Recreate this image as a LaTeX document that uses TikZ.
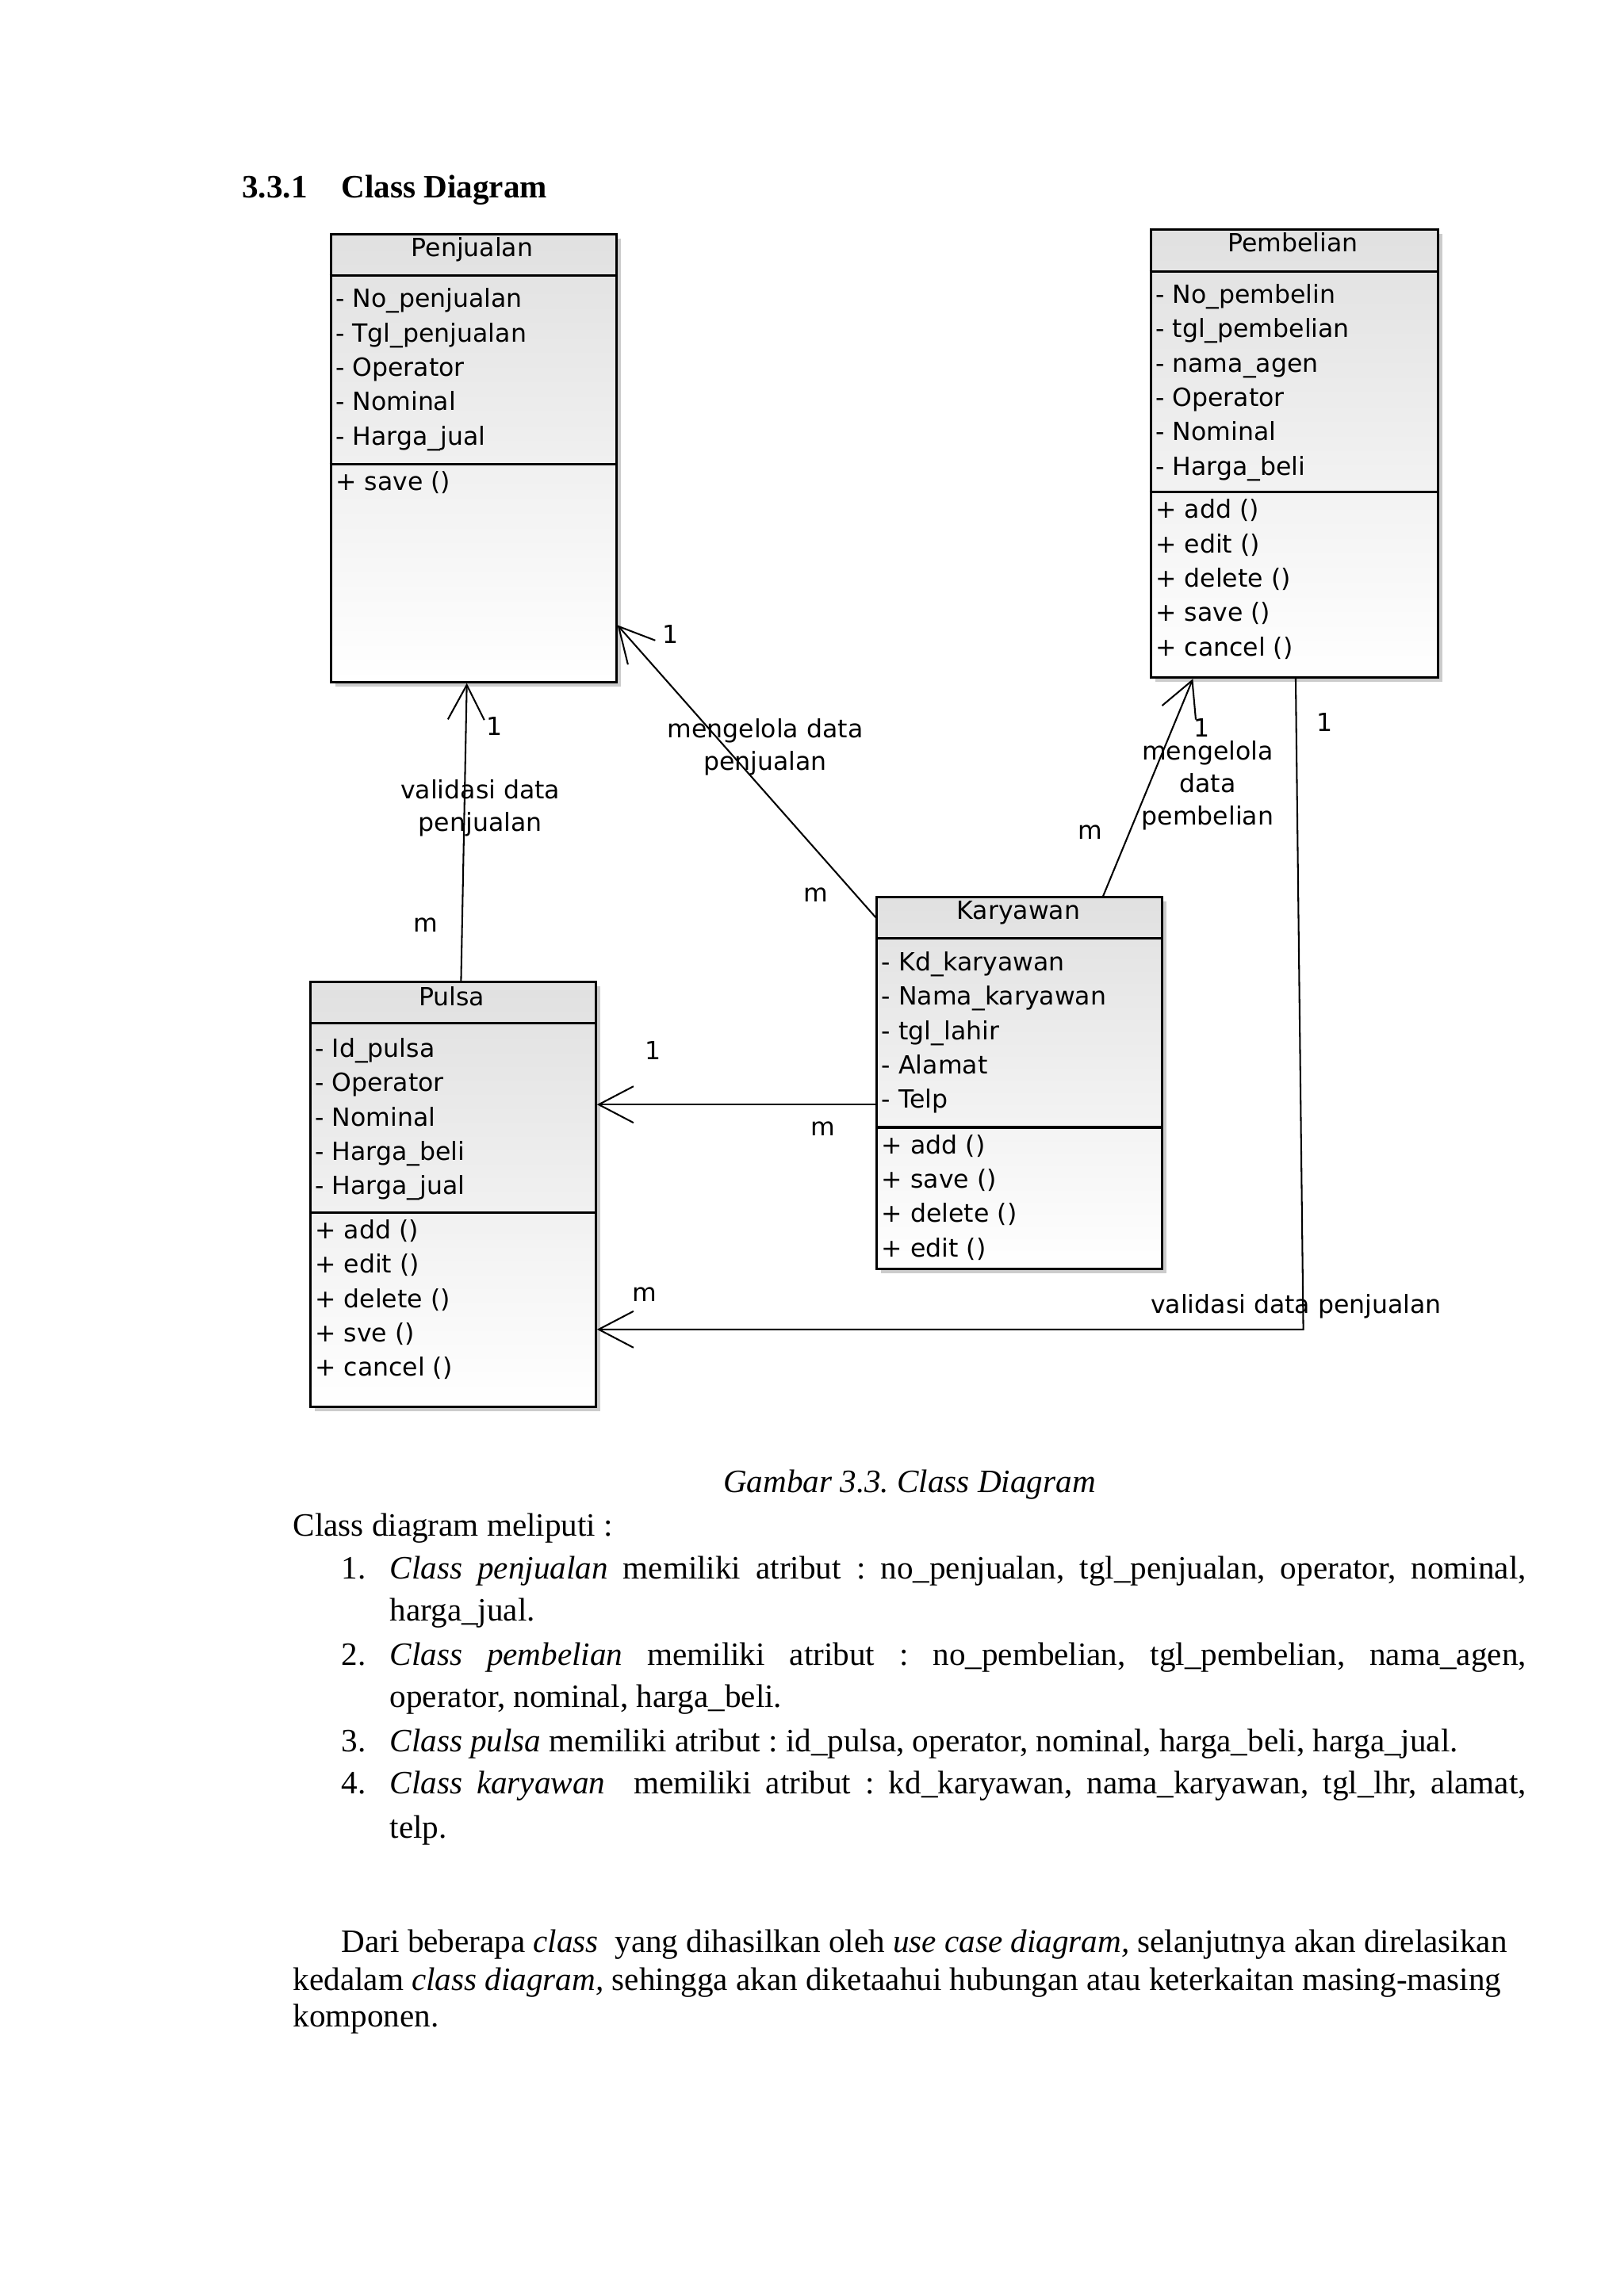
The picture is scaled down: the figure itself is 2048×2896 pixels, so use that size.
\documentclass[tikz,border=0pt]{standalone}
\usepackage{fontspec}
\setmainfont{Liberation Serif}
\newfontfamily\umlfont{DejaVu Sans}
\usetikzlibrary{arrows.meta,calc,shadows}

\tikzset{
  classbox/.style={draw, line width=0.9pt, top color=black!12, bottom color=white, inner sep=0pt,
    drop shadow={shadow xshift=1.6pt, shadow yshift=-1.6pt, opacity=0.4}},
  divider/.style={line width=0.9pt},
  umltext/.style={anchor=base west, inner sep=0.75pt, font=\umlfont\fontsize{9.2}{11}\selectfont},
  umltitle/.style={anchor=base, inner sep=0.75pt, font=\umlfont\fontsize{9.2}{11}\selectfont},
  umllabel/.style={inner sep=0.75pt, align=center, font=\umlfont\fontsize{9.2}{12}\selectfont},
  assoc/.style={line width=0.6pt, -{Straight Barb[length=12.8pt, width=13.4pt]}},
  bodytext/.style={anchor=base west, inner sep=0.75pt, font=\fontsize{12}{14}\selectfont\frenchspacing},
  bodyhead/.style={anchor=base west, inner sep=0.75pt, font=\fontsize{12}{14}\selectfont\bfseries},
}

\begin{document}
\begin{tikzpicture}[x=0.29175pt,y=0.29175pt,yscale=-1,xscale=1]
\useasboundingbox (0,0) rectangle (2048,2896);

% Text Node
\draw (302.1,249) node (secnum) [bodyhead] {3.3.1};
% Text Node
\draw (427.4,249) node (sectitle) [bodyhead] {Class Diagram};

%Shape: Rectangle [penjualan]
\draw (415.5,293.6) node (penjualan) [anchor=north west, classbox, minimum width=360*0.29175pt, minimum height=565*0.29175pt] {};
\draw [divider] (penjualan.west |- 0,347.2) -- (penjualan.east |- 0,347.2) ;
\draw [divider] (penjualan.west |- 0,585.4) -- (penjualan.east |- 0,585.4) ;
%Shape: Rectangle [pembelian]
\draw (1449.6,288.1) node (pembelian) [anchor=north west, classbox, minimum width=362*0.29175pt, minimum height=565*0.29175pt] {};
\draw [divider] (pembelian.west |- 0,342.7) -- (pembelian.east |- 0,342.7) ;
\draw [divider] (pembelian.west |- 0,620.5) -- (pembelian.east |- 0,620.5) ;
%Shape: Rectangle [karyawan]
\draw (1104.3,1130.2) node (karyawan) [anchor=north west, classbox, minimum width=360*0.29175pt, minimum height=469*0.29175pt] {};
\draw [divider] (karyawan.west |- 0,1183.7) -- (karyawan.east |- 0,1183.7) ;
\draw [divider] (karyawan.west |- 0,1422) -- (karyawan.east |- 0,1422) ;
%Shape: Rectangle [pulsa]
\draw (389.7,1237.3) node (pulsa) [anchor=north west, classbox, minimum width=360*0.29175pt, minimum height=535.5*0.29175pt] {};
\draw [divider] (pulsa.west |- 0,1290.8) -- (pulsa.east |- 0,1290.8) ;
\draw [divider] (pulsa.west |- 0,1529.8) -- (pulsa.east |- 0,1529.8) ;

% Text Node: Penjualan
\draw (595.5,323) node (pj-name) [umltitle] {Penjualan};
\draw (420,387.7) node (pj-a1) [umltext] {- No\_penjualan};
\draw (420,431.1) node (pj-a2) [umltext] {- Tgl\_penjualan};
\draw (420,474.5) node (pj-a3) [umltext] {- Operator};
\draw (420,517.9) node (pj-a4) [umltext] {- Nominal};
\draw (420,561.3) node (pj-a5) [umltext] {- Harga\_jual};
\draw (420,618.6) node (pj-m1) [umltext] {+ save ()};

% Text Node: Pembelian
\draw (1630.6,317.6) node (pb-name) [umltitle] {Pembelian};
\draw (1454,382.2) node (pb-a1) [umltext] {- No\_pembelin};
\draw (1454,425.6) node (pb-a2) [umltext] {- tgl\_pembelian};
\draw (1454,469) node (pb-a3) [umltext] {- nama\_agen};
\draw (1454,512.4) node (pb-a4) [umltext] {- Operator};
\draw (1454,555.8) node (pb-a5) [umltext] {- Nominal};
\draw (1454,599.2) node (pb-a6) [umltext] {- Harga\_beli};
\draw (1454,653.7) node (pb-m1) [umltext] {+ add ()};
\draw (1454,697.1) node (pb-m2) [umltext] {+ edit ()};
\draw (1454,740.5) node (pb-m3) [umltext] {+ delete ()};
\draw (1454,783.9) node (pb-m4) [umltext] {+ save ()};
\draw (1454,827.3) node (pb-m5) [umltext] {+ cancel ()};

% Text Node: Karyawan
\draw (1284.4,1159.7) node (ky-name) [umltitle] {Karyawan};
\draw (1108.7,1224.3) node (ky-a1) [umltext] {- Kd\_karyawan};
\draw (1108.7,1267.7) node (ky-a2) [umltext] {- Nama\_karyawan};
\draw (1108.7,1311.1) node (ky-a3) [umltext] {- tgl\_lahir};
\draw (1108.7,1354.5) node (ky-a4) [umltext] {- Alamat};
\draw (1108.7,1397.9) node (ky-a5) [umltext] {- Telp};
\draw (1108.7,1455.1) node (ky-m1) [umltext] {+ add ()};
\draw (1108.7,1498.5) node (ky-m2) [umltext] {+ save ()};
\draw (1108.7,1541.9) node (ky-m3) [umltext] {+ delete ()};
\draw (1108.7,1585.3) node (ky-m4) [umltext] {+ edit ()};

% Text Node: Pulsa
\draw (569.8,1268.6) node (pl-name) [umltitle] {Pulsa};
\draw (394.1,1333.2) node (pl-a1) [umltext] {- Id\_pulsa};
\draw (394.1,1376.6) node (pl-a2) [umltext] {- Operator};
\draw (394.1,1420) node (pl-a3) [umltext] {- Nominal};
\draw (394.1,1463.4) node (pl-a4) [umltext] {- Harga\_beli};
\draw (394.1,1506.8) node (pl-a5) [umltext] {- Harga\_jual};
\draw (394.1,1562.2) node (pl-m1) [umltext] {+ add ()};
\draw (394.1,1605.6) node (pl-m2) [umltext] {+ edit ()};
\draw (394.1,1649) node (pl-m3) [umltext] {+ delete ()};
\draw (394.1,1692.4) node (pl-m4) [umltext] {+ sve ()};
\draw (394.1,1735.8) node (pl-m5) [umltext] {+ cancel ()};

%Straight Lines [pulsa -> penjualan]
\draw [assoc] ($(pulsa.north west)!0.528!(pulsa.north east)$) -- ($(penjualan.south west)!0.477!(penjualan.south east)$) ;
%Straight Lines [karyawan -> penjualan]
\draw [assoc] ($(karyawan.north west)!0.057!(karyawan.south west)$) -- ($(penjualan.north east)!0.871!(penjualan.south east)$) ;
%Straight Lines [karyawan -> pembelian]
\draw [assoc] ($(karyawan.north west)!0.79!(karyawan.north east)$) -- ($(pembelian.south west)!0.150!(pembelian.south east)$) ;
%Straight Lines [karyawan -> pulsa]
\coordinate (ky-telp) at ($(karyawan.north west)!0.557!(karyawan.south west)$) ;
\draw [assoc] (ky-telp) -- (ky-telp -| pulsa.east) ;
%Shape: Boxed Line [pembelian -> pulsa]
\coordinate (pb-out) at ($(pembelian.south west)!0.505!(pembelian.south east)$) ;
\coordinate (bend) at (1643.6,1676.8) ;
\draw [assoc] (pb-out) -- (bend) -- (bend -| pulsa.east) ;

% Text Node
\draw (624,916) node (c1-one) [umllabel] {1};
\draw (537,1167) node (c1-m) [umllabel] {m};
\draw (605.7,1019) node (c1-name) [umllabel] {validasi data\\penjualan};
% Text Node
\draw (846,800) node (c2-one) [umllabel] {1};
\draw (1029,1129) node (c2-m) [umllabel] {m};
\draw (965,942) node (c2-name) [umllabel] {mengelola data\\penjualan};
% Text Node
\draw (1516,918) node (c3-one) [umllabel] {1};
\draw (1375,1050) node (c3-m) [umllabel] {m};
\draw (1523,991) node (c3-name) [umllabel] {mengelola\\data\\pembelian};
% Text Node
\draw (824,1325) node (c4-one) [umllabel] {1};
\draw (1038,1424) node (c4-m) [umllabel] {m};
% Text Node
\draw (1671,911) node (c5-one) [umllabel] {1};
\draw (812.5,1633) node (c5-m) [umllabel] {m};
\draw (1634.5,1648) node (c5-name) [umllabel] {validasi data penjualan};

% Text Node
\draw (1147,1882) node (caption) [bodytext, anchor=base] {\itshape Gambar 3.3. Class Diagram};
% Text Node
\draw (366.4,1937) node (intro) [bodytext] {Class diagram meliputi :};
\draw (427.4,1991) node (num-1) [bodytext] {1.};
\draw (488.4,1991) node (item-1a) [bodytext] {\makebox[418.1pt][s]{\textit{Class penjualan} memiliki atribut : no\_penjualan, tgl\_penjualan, operator, nominal,}};
\draw (488.4,2044) node (item-1b) [bodytext] {harga\_jual.};
\draw (427.4,2100) node (num-2) [bodytext] {2.};
\draw (488.4,2100) node (item-2a) [bodytext] {\makebox[418.1pt][s]{\textit{Class pembelian} memiliki atribut : no\_pembelian, tgl\_pembelian, nama\_agen,}};
\draw (488.4,2153) node (item-2b) [bodytext] {operator, nominal, harga\_beli.};
\draw (427.4,2209) node (num-3) [bodytext] {3.};
\draw (488.4,2209) node (item-3a) [bodytext] {\textit{Class pulsa} memiliki atribut : id\_pulsa, operator, nominal, harga\_beli, harga\_jual.};
\draw (427.4,2262) node (num-4) [bodytext] {4.};
\draw (488.4,2262) node (item-4a) [bodytext] {\makebox[418.1pt][s]{\textit{Class karyawan}\ \ memiliki atribut : kd\_karyawan, nama\_karyawan, tgl\_lhr, alamat,}};
\draw (488.4,2318) node (item-4b) [bodytext] {telp.};
% Text Node
\draw (427.4,2462) node (para-a) [bodytext] {Dari beberapa \textit{class}\ \ yang dihasilkan oleh \textit{use case diagram,} selanjutnya akan direlasikan};
\draw (366.4,2510) node (para-b) [bodytext] {kedalam \textit{class diagram,} sehingga akan diketaahui hubungan atau keterkaitan masing-masing};
\draw (366.4,2556) node (para-c) [bodytext] {komponen.};

\end{tikzpicture}
\end{document}
